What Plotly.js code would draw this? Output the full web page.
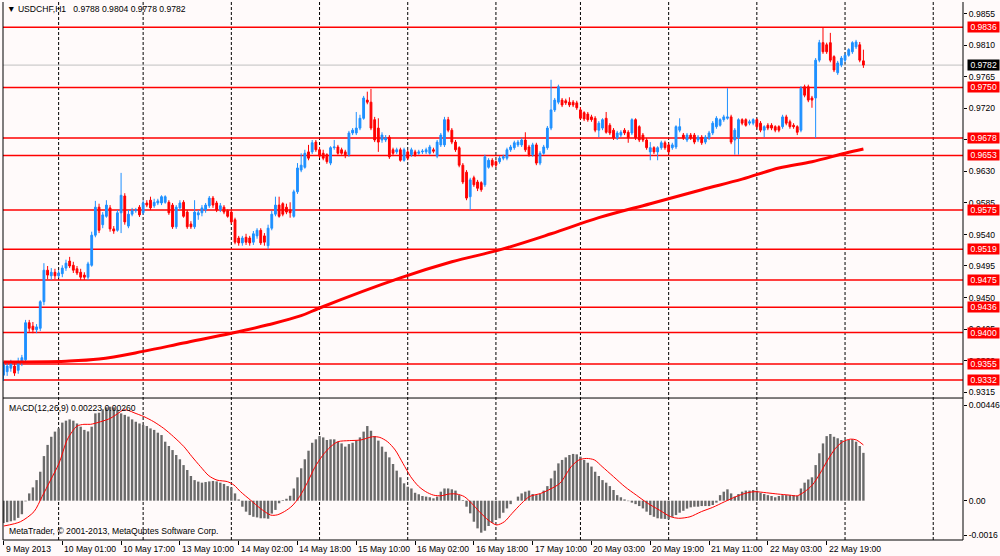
<!DOCTYPE html>
<html><head><meta charset="utf-8">
<script src="https://cdn.plot.ly/plotly-3.0.1.min.js"></script>
<style>html,body{margin:0;padding:0;background:#FFFAFA;}#chart{width:1000px;height:556px;}</style>
</head><body><div id="chart"></div>
<script>
const symbol = 'USDCHF,H1';

const open = [
.9339,.9344,.9349,.9352,.9346,.9358,.9361,.9414,.9409,.9404,
.9406,.9444,.9489,.9481,.9486,.9481,.9484,.9492,.9502,.9496,
.9491,.9486,.9482,.9479,.9496,.9539,.9579,.9554,.9566,.9578,
.9548,.9546,.9571,.9595,.9552,.9569,.9574,.9579,.9571,.9585,
.9589,.9581,.9585,.9585,.9586,.9586,.9582,.9551,.9578,.9586,
.9572,.9555,.9551,.9568,.9571,.9575,.9581,.9592,.9585,.9575,
.9579,.9574,.9572,.9561,.9535,.9528,.9536,.9535,.9529,.9538,
.9546,.9538,.9524,.9549,.9569,.9582,.9584,.9579,.9575,.9566,
.9601,.9632,.9636,.9658,.9658,.9672,.9661,.9656,.9654,.9642,
.9664,.9665,.9661,.9658,.9654,.9685,.9685,.9692,.9706,.9732,
.9729,.9704,.9692,.9675,.9675,.9679,.9661,.9658,.9661,.9646,
.9658,.9654,.9658,.9656,.9658,.9658,.9656,.9661,.9652,.9668,
.9668,.9704,.9689,.9672,.9664,.9639,.9629,.9594,.9621,.9615,
.9614,.9611,.9636,.9646,.9644,.9644,.9649,.9649,.9661,.9664,
.9668,.9668,.9675,.9665,.9654,.9668,.9642,.9656,.9664,.9692,
.9718,.9729,.9732,.9731,.9729,.9729,.9728,.9718,.9714,.9712,
.9708,.9706,.9689,.9692,.9706,.9696,.9689,.9678,.9682,.9689,
.9686,.9685,.9704,.9694,.9682,.9675,.9658,.9664,.9658,.9664,
.9671,.9668,.9664,.9665,.9689,.9682,.9675,.9682,.9682,.9675,
.9679,.9672,.9678,.9685,.9694,.9696,.9704,.9706,.9708,.9675,
.9678,.9704,.9704,.9699,.9699,.9704,.9699,.9689,.9696,.9696,
.9694,.9694,.9694,.9708,.9701,.9696,.9694,.9689,.9751,.9751,
.9735,.9735,.9789,.9814,.9811,.9814,.9794,.9771,.9782,.9789,
.9796,.9801,.9808,.9811,.9788];

const high = [
.9358,.9358,.9361,.9356,.9364,.9368,.9418,.9418,.9415,.9412,
.9446,.9499,.9495,.9492,.9491,.9489,.9496,.9504,.9508,.9501,
.9495,.9491,.9486,.9501,.9544,.9588,.9584,.9572,.9589,.9582,
.9552,.9575,.9628,.9599,.9575,.9578,.9578,.9582,.9589,.9589,
.9594,.9591,.9591,.9596,.9596,.9589,.9585,.9582,.9589,.9589,
.9575,.9559,.9589,.9575,.9582,.9585,.9595,.9595,.9588,.9585,
.9582,.9576,.9575,.9564,.9538,.9538,.9541,.9538,.9545,.9549,
.9549,.9542,.9554,.9574,.9594,.9594,.9586,.9584,.9586,.9604,
.9642,.9656,.9661,.9668,.9675,.9675,.9665,.9661,.9656,.9666,
.9675,.9668,.9664,.9661,.9688,.9692,.9715,.9711,.9738,.9744,
.9748,.9708,.9706,.9686,.9682,.9682,.9664,.9664,.9664,.9664,
.9661,.9664,.9661,.9661,.9662,.9664,.9668,.9664,.9675,.9685,
.9708,.9708,.9692,.9675,.9666,.9642,.9632,.9621,.9624,.9618,
.9616,.9654,.9649,.9649,.9646,.9652,.9654,.9664,.9668,.9674,
.9675,.9678,.9686,.9668,.9671,.9671,.9659,.9668,.9695,.9761,
.9735,.9754,.9735,.9734,.9736,.9732,.9731,.9722,.9716,.9715,
.9711,.9709,.9702,.9706,.9715,.9699,.9692,.9688,.9689,.9692,
.9689,.9706,.9706,.9696,.9685,.9678,.9672,.9666,.9666,.9674,
.9674,.9671,.9671,.9696,.9706,.9685,.9685,.9685,.9685,.9682,
.9682,.9682,.9688,.9702,.9709,.9706,.9711,.9749,.9711,.9692,
.9706,.9706,.9706,.9704,.9706,.9706,.9702,.9696,.9699,.9699,
.9696,.9696,.9711,.9711,.9704,.9699,.9696,.9752,.9754,.9754,
.9738,.9792,.9818,.9836,.9814,.9828,.9796,.9788,.9795,.9799,
.9806,.9816,.9818,.9815,.9804];

const low = [
.9331,.9338,.9344,.9338,.9341,.9352,.9356,.9401,.9399,.9399,
.9402,.9439,.9476,.9475,.9476,.9478,.9479,.9488,.9492,.9485,
.9482,.9475,.9475,.9475,.9494,.9536,.9542,.9549,.9564,.9544,
.9541,.9544,.9542,.9554,.9549,.9566,.9571,.9565,.9568,.9579,
.9575,.9578,.9582,.9582,.9584,.9568,.9548,.9548,.9575,.9564,
.9548,.9548,.9548,.9561,.9566,.9571,.9578,.9578,.9572,.9572,
.9569,.9564,.9555,.9526,.9524,.9524,.9525,.9524,.9525,.9534,
.9525,.9524,.9519,.9546,.9566,.9564,.9566,.9569,.9564,.9564,
.9598,.9629,.9634,.9646,.9655,.9658,.9649,.9646,.9641,.9639,
.9661,.9654,.9654,.9649,.9651,.9682,.9682,.9689,.9704,.9726,
.9689,.9672,.9658,.9671,.9672,.9648,.9652,.9655,.9644,.9644,
.9646,.9651,.9651,.9654,.9655,.9655,.9654,.9656,.9649,.9665,
.9665,.9686,.9669,.9658,.9636,.9612,.9589,.9575,.9608,.9602,
.9601,.9608,.9634,.9636,.9636,.9641,.9646,.9646,.9658,.9661,
.9665,.9665,.9658,.9651,.9651,.9639,.9639,.9654,.9661,.9689,
.9715,.9726,.9722,.9725,.9722,.9722,.9718,.9704,.9702,.9701,
.9701,.9686,.9679,.9689,.9684,.9682,.9675,.9675,.9679,.9682,
.9671,.9682,.9675,.9672,.9672,.9661,.9646,.9655,.9646,.9661,
.9661,.9655,.9661,.9662,.9686,.9675,.9672,.9675,.9669,.9672,
.9668,.9669,.9675,.9682,.9691,.9694,.9701,.9704,.9669,.9654,
.9654,.9696,.9694,.9696,.9696,.9691,.9686,.9679,.9689,.9689,
.9686,.9686,.9691,.9696,.9691,.9691,.9682,.9686,.9736,.9729,
.9721,.9678,.9786,.9798,.9798,.9786,.9772,.9768,.9779,.9786,
.9794,.9798,.9805,.9786,.9778];

const close = [
.9354,.9352,.9355,.9342,.9358,.9364,.9414,.9406,.9404,.9408,
.9444,.9489,.9482,.9486,.9481,.9485,.9492,.9499,.9495,.9489,
.9485,.9479,.9479,.9498,.9539,.9579,.9546,.9568,.9582,.9548,
.9545,.9571,.9596,.9558,.9569,.9574,.9575,.9568,.9585,.9582,
.9578,.9586,.9588,.9594,.9594,.9571,.9551,.9579,.9585,.9566,
.9551,.9551,.9572,.9571,.9578,.9582,.9592,.9582,.9575,.9581,
.9572,.9566,.9558,.9529,.9528,.9535,.9529,.9528,.9541,.9546,
.9528,.9529,.9549,.9569,.9582,.9566,.9569,.9572,.9571,.9601,
.9635,.9639,.9656,.9649,.9671,.9661,.9652,.9649,.9644,.9664,
.9665,.9656,.9656,.9654,.9685,.9689,.9692,.9706,.9735,.9729,
.9692,.9675,.9672,.9682,.9678,.9651,.9656,.9661,.9646,.9661,
.9649,.9661,.9654,.9658,.9659,.9661,.9665,.9659,.9672,.9682,
.9704,.9689,.9672,.9661,.9639,.9615,.9592,.9618,.9611,.9606,
.9604,.9651,.9646,.9639,.9639,.9649,.9651,.9661,.9665,.9671,
.9672,.9675,.9661,.9654,.9668,.9642,.9656,.9665,.9692,.9718,
.9732,.9751,.9725,.9728,.9725,.9725,.9721,.9706,.9705,.9704,
.9704,.9689,.9699,.9704,.9686,.9685,.9678,.9685,.9686,.9685,
.9678,.9704,.9678,.9675,.9675,.9664,.9664,.9658,.9664,.9671,
.9664,.9658,.9668,.9694,.9694,.9678,.9682,.9678,.9672,.9679,
.9671,.9679,.9685,.9699,.9706,.9704,.9708,.9708,.9672,.9689,
.9704,.9699,.9696,.9701,.9704,.9694,.9689,.9694,.9692,.9692,
.9689,.9689,.9708,.9699,.9694,.9694,.9686,.9749,.9739,.9732,
.9732,.9789,.9814,.9801,.9801,.9789,.9775,.9785,.9792,.9796,
.9804,.9814,.9815,.9789,.9782];

// moving average line (bar index, price)
const maIdx = [0,17,26,38,49,62,72,81,86,108,122,135,149,162,176,190,201,211,220,229,234];
const maVal = [0.9358,0.9359,0.9362,0.9373,0.9385,0.9399,0.9411,0.9424,0.9435,0.9478,0.9501,0.9518,0.9541,0.9564,0.9584,0.9604,0.9619,0.9635,0.9644,0.9656,0.9662];

// MACD histogram (main line) per bar
const macdHist = [
-0.00104,-0.00100,-0.00096,-0.00092,-0.00080,-0.00063,-0.00003,0.00034,0.00062,0.00096,
0.00135,0.00208,0.00260,0.00298,0.00322,0.00337,0.00364,0.00373,0.00379,0.00373,
0.00360,0.00345,0.00330,0.00323,0.00345,0.00407,0.00410,0.00426,0.00435,0.00438,
0.00435,0.00423,0.00407,0.00400,0.00392,0.00379,0.00368,0.00360,0.00353,0.00348,
0.00337,0.00330,0.00317,0.00306,0.00275,0.00255,0.00236,0.00213,0.00193,0.00166,
0.00143,0.00115,0.00096,0.00089,0.00084,0.00087,0.00090,0.00092,0.00090,0.00084,
0.00078,0.00068,0.00062,0.00034,0.00006,-0.00028,-0.00051,-0.00067,-0.00075,-0.00078,
-0.00082,-0.00082,-0.00084,-0.00060,-0.00043,-0.00012,
0.00003,0.00009,0.00023,0.00057,0.00109,0.00151,0.00193,0.00233,0.00270,0.00286,
0.00301,0.00295,0.00283,0.00286,0.00286,0.00275,0.00267,0.00252,0.00264,0.00270,
0.00280,0.00295,0.00322,0.00348,0.00326,0.00301,0.00280,0.00252,0.00228,0.00202,
0.00171,0.00140,0.00109,0.00081,0.00065,0.00057,0.00037,0.00030,0.00022,0.00019,
0.00016,0.00011,0.00019,0.00042,0.00057,0.00057,0.00053,0.00047,0.00026,0.00003,
-0.00028,-0.00059,-0.00098,-0.00129,-0.00149,-0.00140,-0.00118,-0.00103,-0.00090,-0.00082,
-0.00056,-0.00036,-0.00016,0.00000,0.00019,0.00034,0.00042,0.00047,0.00031,
0.00026,0.00031,0.00047,0.00068,0.00104,0.00140,0.00174,0.00190,0.00202,0.00213,
0.00218,0.00216,0.00205,0.00190,0.00177,0.00159,0.00135,0.00115,0.00096,0.00084,
0.00068,0.00050,0.00026,0.00016,0.00006,-0.00002,-0.00009,-0.00016,-0.00025,-0.00036,
-0.00051,-0.00067,-0.00075,-0.00082,-0.00084,-0.00085,-0.00087,-0.00075,-0.00067,-0.00056,
-0.00047,-0.00037,-0.00031,-0.00028,-0.00028,-0.00025,-0.00025,-0.00025,-0.00020,-0.00009,
0.00026,0.00042,0.00053,0.00034,0.00019,0.00031,0.00042,0.00047,0.00047,
0.00050,0.00047,0.00037,0.00031,0.00026,0.00022,0.00016,0.00022,0.00026,0.00026,
0.00026,0.00026,0.00022,0.00057,0.00084,0.00099,0.00109,0.00166,0.00221,0.00267,
0.00301,0.00311,0.00298,0.00291,0.00283,0.00280,0.00283,0.00286,0.00275,0.00255,
0.00223];

// MACD signal line (bar index, value)
const sigIdx = [0.1,4.6,8.3,10.5,12.8,15.1,17.3,18.7,20,21.9,
23.7,26.4,29.1,30.9,32.7,34.1,35.5,38.2,40.9,43.6,
46.3,49.1,51.3,53.6,55.9,58.1,60.9,62.7,64.5,67.2,
69.9,72.7,74.5,76.5,78.5,80.6,82.7,84.7,86.8,88.9,
91,94.1,97.2,100.4,102.4,104.5,106.6,108.7,110.8,112.9,
114.9,117,119.1,121.2,123.3,125.4,127.4,129.5,132.1,134.2,
136.3,138.4,141,143.1,146.2,148.3,151.4,154.5,156.6,158.7,
160.8,162.9,166,169.1,172.2,175.3,178.5,181.6,183.7,186.8,
189.9,193,196.2,199.3,202.4,204.5,207.6,210.7,213.9,216,
218,220.1,222.2,224.3,226.4,228.4,230.5,232.1,234];
const sigVal = [
-0.00118,-0.00098,-0.00051,0.00019,0.00096,0.00174,0.00283,0.00322,0.00348,0.00356,
0.00356,0.00368,0.00384,0.00404,0.00423,0.00420,0.00410,0.00392,0.00368,0.00337,
0.00298,0.00252,0.00205,0.00159,0.00116,0.00096,0.00089,0.00073,0.00042,0.00003,
-0.00036,-0.00067,-0.00066,-0.00050,-0.00025,0.00020,0.00085,0.00155,0.00210,0.00250,
0.00275,0.00280,0.00283,0.00298,0.00295,0.00275,0.00236,0.00174,0.00112,0.00068,
0.00042,0.00026,0.00023,0.00031,0.00031,0.00019,-0.00012,-0.00051,-0.00093,-0.00113,
-0.00098,-0.00059,-0.00012,0.00019,0.00034,0.00050,0.00081,0.00159,0.00190,0.00197,
0.00190,0.00159,0.00112,0.00065,0.00026,-0.00012,-0.00044,-0.00075,-0.00082,-0.00075,
-0.00051,-0.00031,-0.00005,0.00019,0.00037,0.00042,0.00037,0.00031,0.00026,0.00023,
0.00042,0.00073,0.00127,0.00190,0.00244,0.00275,0.00287,0.00283,0.00260];

const levels = [0.9836,0.9750,0.9678,0.9653,0.9575,0.9519,0.9475,0.9436,0.9400,0.9355,0.9332];
const priceTicks = [0.9855,0.9810,0.9765,0.9720,0.9675,0.9630,0.9585,0.9540,0.9495,0.9450,0.9405,0.9360,0.9315];
const macdTicks = [0.00446,0,-0.0016];
const macdTickText = ['0.00446','0.00','-0.0016'];
const timeLabelIdx = [0,16,32,48,64,80,96,112,128,144,160,176,192,208,224];
const timeLabels = ['9 May 2013','10 May 01:00','10 May 17:00','13 May 10:00','14 May 02:00','14 May 18:00','15 May 10:00','16 May 02:00','16 May 18:00','17 May 10:00','20 May 03:00','20 May 19:00','21 May 11:00','22 May 03:00','22 May 19:00'];
const daySepIdx = [15,38,62,86,110,134,157,181,205,229,253];

const N = close.length;
const idx = close.map((_, i) => i);
const FONT = 'Liberation Sans, Arial, sans-serif';
const FS = 8.6;
const NB = '\u00A0';
const mainDomain = [0.2639, 1];
const macdDomain = [0, 0.2602];

const traces = [
  {type:'candlestick', x:idx, open:open, high:high, low:low, close:close, xaxis:'x', yaxis:'y',
   increasing:{line:{color:'#1E90FF', width:1}, fillcolor:'#1E90FF'},
   decreasing:{line:{color:'#FF0000', width:1}, fillcolor:'#FF0000'},
   whiskerwidth:0, hoverinfo:'skip'},
  {type:'scatter', mode:'lines', x:maIdx, y:maVal, xaxis:'x', yaxis:'y',
   line:{color:'#FF0000', width:3, shape:'spline', smoothing:1}, hoverinfo:'skip'},
  {type:'bar', x:idx, y:macdHist, xaxis:'x', yaxis:'y2',
   marker:{color:'#6A6A6A', line:{width:0}}, hoverinfo:'skip'},
  {type:'scatter', mode:'lines', x:sigIdx, y:sigVal, xaxis:'x', yaxis:'y2',
   line:{color:'#FF0000', width:1, shape:'spline', smoothing:0.8}, hoverinfo:'skip'}
];

const shapes = [];
daySepIdx.forEach(d => shapes.push({type:'line', xref:'x', yref:'paper', x0:d, x1:d, y0:0, y1:1,
  line:{color:'#000000', width:1, dash:'3px,2px'}, layer:'below'}));
levels.forEach(lv => shapes.push({type:'line', xref:'paper', x0:0, x1:1, yref:'y', y0:lv, y1:lv,
  line:{color:'#FF0000', width:1.5}, layer:'below'}));
shapes.push({type:'line', xref:'paper', x0:0, x1:1, yref:'y', y0:close[N-1], y1:close[N-1],
  line:{color:'#C0C0C0', width:1}, layer:'below'});
// pane borders
shapes.push({type:'line', xref:'paper', yref:'paper', x0:0, x1:0, y0:0, y1:1, line:{color:'#000', width:1}});
shapes.push({type:'line', xref:'paper', yref:'paper', x0:1, x1:1, y0:0, y1:1, line:{color:'#000', width:1}});
shapes.push({type:'line', xref:'paper', yref:'paper', x0:0, x1:1, y0:mainDomain[0], y1:mainDomain[0], line:{color:'#000', width:1}});
shapes.push({type:'line', xref:'paper', yref:'paper', x0:0, x1:1, y0:0, y1:0, line:{color:'#000', width:1}});

const annotations = [];
levels.forEach(lv => annotations.push({xref:'paper', x:1, xanchor:'left', xshift:4, yref:'y', y:lv, yanchor:'middle',
  text:NB + lv.toFixed(4) + NB, showarrow:false, bgcolor:'#FF0000', borderpad:0,
  font:{family:FONT, size:FS, color:'#FFFFFF'}}));
annotations.push({xref:'paper', x:1, xanchor:'left', xshift:4, yref:'y', y:close[N-1], yanchor:'middle',
  text:NB + close[N-1].toFixed(4) + NB, showarrow:false, bgcolor:'#000000', borderpad:0,
  font:{family:FONT, size:FS, color:'#FFFFFF'}});
timeLabelIdx.forEach((t, k) => annotations.push({xref:'x', x:t, xanchor:'left', xshift:0, yref:'paper', y:0,
  yanchor:'top', yshift:-2, text:timeLabels[k], showarrow:false,
  font:{family:FONT, size:FS, color:'#000'}}));
annotations.push({xref:'paper', x:0, xanchor:'left', xshift:2, yref:'paper', y:1, yanchor:'top', yshift:0,
  text:'▼ ' + symbol + NB + NB + NB + [open[N-1], high[N-1], low[N-1], close[N-1]].map(v => v.toFixed(4)).join(NB),
  showarrow:false, font:{family:FONT, size:FS, color:'#000'}});
annotations.push({xref:'paper', x:0, xanchor:'left', xshift:4, yref:'paper', y:macdDomain[1], yanchor:'top', yshift:-1,
  text:'MACD(12,26,9) ' + macdHist[N-1].toFixed(5) + ' ' + sigVal[sigVal.length-1].toFixed(5),
  showarrow:false, font:{family:FONT, size:FS, color:'#000'}});
annotations.push({xref:'paper', x:0, xanchor:'left', xshift:4, yref:'paper', y:0, yanchor:'bottom', yshift:2,
  text:'MetaTrader, © 2001-2013, MetaQuotes Software Corp.',
  showarrow:false, font:{family:FONT, size:FS, color:'#000'}});

const layout = {
  width:1000, height:556,
  margin:{l:3, r:37, t:2, b:16, pad:0},
  paper_bgcolor:'#FFFAFA', plot_bgcolor:'#FFFAFA',
  showlegend:false, hovermode:false, dragmode:false,
  font:{family:FONT, size:FS, color:'#000'},
  bargap:0.35,
  xaxis:{range:[-0.136, 261.1], anchor:'y2', rangeslider:{visible:false}, showgrid:false, zeroline:false,
    showline:false, tickmode:'array', tickvals:timeLabelIdx, ticktext:timeLabelIdx.map(() => ''),
    ticks:'outside', ticklen:4, tickcolor:'#000', tickwidth:1, tickangle:0,
    automargin:false, fixedrange:true},
  yaxis:{domain:mainDomain, range:[0.93064, 0.98721], side:'right', anchor:'x', showgrid:false, zeroline:false,
    showline:false, tickmode:'array', tickvals:priceTicks,
    ticktext:priceTicks.map(v => v === 0.9675 ? '' : v.toFixed(4)),
    ticks:'outside', ticklen:3, tickcolor:'#000', tickfont:{family:FONT, size:FS, color:'#000'},
    automargin:false, fixedrange:true},
  yaxis2:{domain:macdDomain, range:[-0.001832, 0.004693], side:'right', anchor:'x', showgrid:false, zeroline:false,
    showline:false, tickmode:'array', tickvals:macdTicks, ticktext:macdTickText,
    ticks:'outside', ticklen:3, tickcolor:'#000', tickfont:{family:FONT, size:FS, color:'#000'},
    automargin:false, fixedrange:true},
  shapes:shapes,
  annotations:annotations
};

Plotly.newPlot('chart', traces, layout, {displayModeBar:false, staticPlot:true});
</script>
</body></html>
